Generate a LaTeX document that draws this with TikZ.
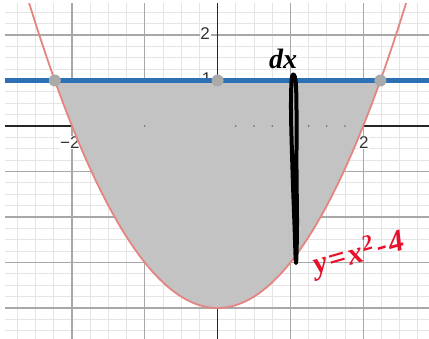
\documentclass[tikz,border=0pt]{standalone}
\usepackage{fontspec}
\setmainfont{Liberation Sans}
\newfontfamily\handfont{Liberation Serif}
\definecolor{minorgrid}{HTML}{E4E4E4}
\definecolor{majorgrid}{HTML}{A8A8A8}
\definecolor{shadegray}{HTML}{C3C3C3}
\definecolor{dblue}{HTML}{2D70B3}
\definecolor{curvered}{HTML}{E58582}
\definecolor{ptgray}{HTML}{AAAAAA}
\definecolor{inkred}{HTML}{E8102A}
\definecolor{lblcol}{HTML}{333333}
\tikzset{
  minorline/.style={draw=minorgrid, line width=0.9pt},
  majorline/.style={draw=majorgrid, line width=1.1pt},
  axisline/.style={draw=black!85, line width=1.6pt},
  numlbl/.style={fill=white, inner sep=0.6pt, text=lblcol, font=\fontsize{17}{17}\selectfont},
  region/.style={fill=shadegray},
  parab/.style={draw=curvered, line width=1.8pt},
  bluehl/.style={draw=dblue, line width=5pt},
  ipoint/.style={fill=ptgray},
}
\begin{document}
\begin{tikzpicture}[x=1pt,y=-1pt]
\useasboundingbox (0,0) rectangle (429,339);
\fill[white] (0,0) rectangle (429,339);
\begin{scope}
\clip (5,4) rectangle (429,339);
\begin{scope}[shift={(217.6,126)},x=72.8pt,y=45.5pt]
  % minor grid
  \foreach \i in {-12,...,12} \draw[minorline] (\i/4,-5) -- (\i/4,3);
  \foreach \j in {-20,...,12} \draw[minorline] (-3,\j/4) -- (3,\j/4);
  % major grid
  \foreach \i in {-3,...,3} \draw[majorline] (\i,-5) -- (\i,3);
  \foreach \j in {-5,...,3} \draw[majorline] (-3,\j) -- (3,\j);
  % axes
  \draw[axisline] (-3,0) -- (3,0);
  \draw[axisline] (0,-5) -- (0,3);
  % labels
  \node[numlbl] (ly2) at (-0.17,2.04) {2};
  \node[numlbl] (ly1) at (-0.15,1.04) {1};
  \node[numlbl] (lxm2) at (-2.03,-0.37) {−2};
  \node[numlbl] (lx2) at (2.01,-0.37) {2};
  % shaded region
  \fill[region] plot[domain=-2.2361:2.2361, samples=90] (\x,{\x*\x-4}) -- cycle;
  \foreach \t in {-1,0.25,0.5,0.75,1,1.25,1.5,1.75}
    \fill[black!60] (\t,0) circle (0.9pt);
  % curve and line
  \draw[parab] plot[domain=-2.75:2.75, samples=120] (\x,{\x*\x-4});
  \draw[bluehl] (-3.1,1) -- (3.1,1);
  \fill[ipoint] (-2.2361,1) circle (6pt);
  \fill[ipoint] (2.2361,1) circle (6pt);
  \fill[ipoint] (0,1) circle (6pt);
\end{scope}
\end{scope}
% handwritten strip
\draw[line width=4pt, line join=round, line cap=round]
  plot[smooth cycle, tension=0.6] coordinates {(292,77) (291,110) (292.5,170) (294.5,225) (296,263) (297,225) (296.5,170) (296.5,110) (295.5,80)};
% handwritten labels
\node[font=\handfont\bfseries\itshape\fontsize{28}{28}\selectfont] (dxlbl) at (283,59) {dx};
\node[font=\handfont\itshape\bfseries\fontsize{31}{31}\selectfont, text=inkred, rotate=16, inner sep=0pt] (eqlbl) at (359,254) {y\kern2pt=\kern2pt x\kern1pt\textsuperscript{2}\kern2pt-\kern2pt4};
\end{tikzpicture}
\end{document}
